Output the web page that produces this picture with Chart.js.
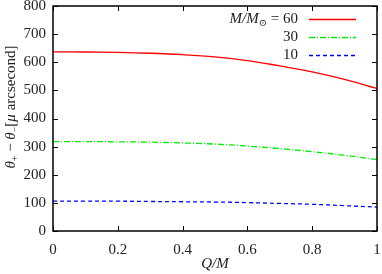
<!DOCTYPE html>
<html><head><meta charset="utf-8">
<script src="https://cdn.jsdelivr.net/npm/chart.js@4"></script>
<style>html,body{margin:0;padding:0;background:#fff}#wrap{width:382px;height:274px}</style>
</head><body><div id="wrap"><canvas id="c" width="382" height="274"></canvas></div>
<script>
const qValues = [0,0.1,0.2,0.3,0.4,0.5,0.6,0.7,0.8,0.9,1.0];
const mass60 = [637,636.5,635,632,627,619,606,587,566,539,507];
const mass30 = [318,318,317,316,313,309,302,293,282,269,254];
const mass10 = [106,106,106,105,104,103,101,98,95,90,85];
const seriesLabels = ['60','30','10'];
const xTicks = [0,0.2,0.4,0.6,0.8,1];
const yTicks = [0,100,200,300,400,500,600,700,800];

const SERIF = '"Liberation Serif","DejaVu Serif",serif';
const FS = 15;
const colors = ['#ff0000','#00ee00','#0000ff'];
const dashes = [[], [6,2,1,2], [4,3]];
const all = [mass60, mass30, mass10];

const datasets = all.map((arr,i)=>({
  label: seriesLabels[i],
  data: qValues.map((q,j)=>({x:q,y:arr[j]})),
  borderColor: colors[i], borderWidth: 1.3, borderDash: dashes[i],
  pointRadius: 0, fill:false, tension:0.4
}));

const decor = {
  id:'decor',
  afterDraw(chart){
    const ctx = chart.ctx, a = chart.chartArea;
    const xs = chart.scales.x, ys = chart.scales.y;
    ctx.save();
    ctx.strokeStyle='#000'; ctx.lineWidth=1;
    xTicks.forEach(v=>{
      const px = Math.round(xs.getPixelForValue(v))+0.5;
      ctx.beginPath(); ctx.moveTo(px,a.bottom); ctx.lineTo(px,a.bottom-5);
      ctx.moveTo(px,a.top); ctx.lineTo(px,a.top+5); ctx.stroke();
    });
    yTicks.forEach(v=>{
      const py = Math.round(ys.getPixelForValue(v))+0.5;
      ctx.beginPath(); ctx.moveTo(a.left,py); ctx.lineTo(a.left+5,py);
      ctx.moveTo(a.right,py); ctx.lineTo(a.right-5,py); ctx.stroke();
    });
    ctx.lineWidth=1.5;
    ctx.strokeRect(a.left,a.top,a.right-a.left,a.bottom-a.top);
    // legend
    ctx.fillStyle='#222'; ctx.textBaseline='middle'; ctx.textAlign='right';
    const ly=[19,37,55], tx=298, l0=309, l1=356;
    ly.forEach((y,i)=>{
      if(i===0){
        ctx.font=FS+'px '+SERIF;
        const tail=' = '+seriesLabels[0];
        const wTail=ctx.measureText(tail).width;
        ctx.fillText(tail,tx,y);
        ctx.font='10px '+SERIF;
        const sun='⊙';
        const wSun=ctx.measureText(sun).width;
        ctx.fillText(sun,tx-wTail,y+4);
        ctx.font='italic '+FS+'px '+SERIF;
        ctx.fillText('M/M',tx-wTail-wSun,y);
      } else {
        ctx.font=FS+'px '+SERIF;
        ctx.fillText(seriesLabels[i],tx,y);
      }
      ctx.strokeStyle=colors[i]; ctx.lineWidth=1.3; ctx.setLineDash(dashes[i]);
      ctx.beginPath(); ctx.moveTo(l0,y+0.5); ctx.lineTo(l1,y+0.5); ctx.stroke();
      ctx.setLineDash([]);
    });
    // x title
    ctx.fillStyle='#222'; ctx.textAlign='center'; ctx.textBaseline='middle';
    ctx.font='italic '+FS+'px '+SERIF;
    ctx.fillText('Q/M',215,264);
    // y title rotated
    ctx.translate(11,107);
    ctx.rotate(-Math.PI/2);
    const parts=[
      {t:'θ',f:'italic '+FS+'px '+SERIF,dy:0},
      {t:'+',f:'10px '+SERIF,dy:4},
      {t:' − ',f:FS+'px '+SERIF,dy:0},
      {t:'θ',f:'italic '+FS+'px '+SERIF,dy:0},
      {t:'−',f:'10px '+SERIF,dy:4},
      {t:'[',f:FS+'px '+SERIF,dy:0},
      {t:'μ',f:'italic '+FS+'px '+SERIF,dy:0},
      {t:' arcsecond]',f:FS+'px '+SERIF,dy:0}
    ];
    let tot=0; parts.forEach(p=>{ctx.font=p.f; p.w=ctx.measureText(p.t).width; tot+=p.w;});
    let x=-tot/2; ctx.textAlign='left';
    parts.forEach(p=>{ctx.font=p.f; ctx.fillText(p.t,x,p.dy); x+=p.w;});
    ctx.restore();
  }
};

new Chart(document.getElementById('c'),{
  type:'line',
  data:{datasets},
  options:{
    responsive:false, animation:false, devicePixelRatio:1,
    layout:{padding:{top:6,right:5,left:0,bottom:0}},
    plugins:{legend:{display:false},tooltip:{enabled:false}},
    scales:{
      x:{type:'linear',min:0,max:1,
        afterBuildTicks(s){s.ticks=xTicks.map(v=>({value:v}));},
        afterFit(s){s.height=43; s.paddingRight=0; s.paddingLeft=0;},
        grid:{display:false,drawTicks:false},border:{display:false},
        ticks:{padding:10,color:'#222',font:{family:SERIF,size:FS},maxRotation:0,
          callback:v=>String(v)}},
      y:{type:'linear',min:0,max:800,
        afterBuildTicks(s){s.ticks=yTicks.map(v=>({value:v}));},
        afterFit(s){s.width=53; s.paddingTop=0; s.paddingBottom=0;},
        grid:{display:false,drawTicks:false},border:{display:false},
        ticks:{padding:7,color:'#222',font:{family:SERIF,size:FS}}}
    }
  },
  plugins:[decor]
});
</script></body></html>
